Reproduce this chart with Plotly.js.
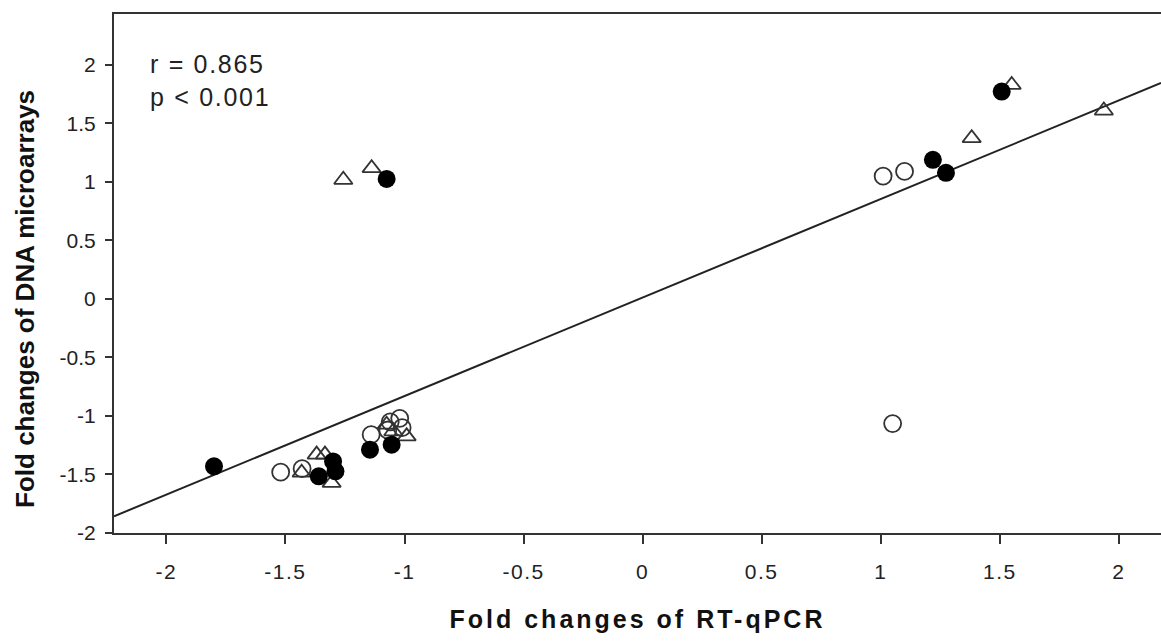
<!DOCTYPE html>
<html>
<head>
<meta charset="utf-8">
<script src="https://cdn.plot.ly/plotly-3.0.1.min.js"></script>
<style>
html,body{margin:0;padding:0;background:#fff;}
#chart{width:1161px;height:641px;}
#chart g.xtick text{letter-spacing:1.5px;}
#chart text.xtitle{letter-spacing:3px;}
#chart g.annotation[data-index="0"] text{letter-spacing:1.7px;}
</style>
</head>
<body>
<div id="chart"></div>
<script>
// Open circles
const openX = [-1.52, -1.43, -1.14, -1.06, -1.02, -1.01, -1.07, 1.01, 1.10, 1.05];
const openY = [-1.48, -1.45, -1.16, -1.05, -1.02, -1.10, -1.12, 1.05, 1.09, -1.065];
// Filled circles
const filledX = [-1.80, -1.36, -1.30, -1.29, -1.145, -1.054, -1.075, 1.219, 1.274, 1.508];
const filledY = [-1.43, -1.516, -1.388, -1.473, -1.288, -1.245, 1.026, 1.189, 1.078, 1.772];
// Open triangles
const triX = [-1.257, -1.138, 1.55, 1.382, 1.937, -1.432, -1.369, -1.334, -1.306, -1.075, -1.047, -0.991];
const triY = [1.018, 1.118, 1.829, 1.374, 1.61, -1.484, -1.33, -1.33, -1.572, -1.074, -1.131, -1.174];
// Regression line parameters
const lineSlope = 0.842;
const lineIntercept = 0.012;
const xRange = [-2.22, 2.177];
const yRange = [-2, 2.435];
const xTicks = [-2, -1.5, -1, -0.5, 0, 0.5, 1, 1.5, 2];
const yTicks = [-2, -1.5, -1, -0.5, 0, 0.5, 1, 1.5, 2];
const statsText = ["r = 0.865", "p < 0.001"];
const xTitle = "Fold changes of RT-qPCR";
const yTitle = "Fold changes of DNA microarrays";

const lineX = xRange.slice();
const lineY = lineX.map(v => lineSlope * v + lineIntercept);

const traces = [
  {x: lineX, y: lineY, mode: 'lines', line: {color: '#222', width: 2}, hoverinfo: 'skip'},
  {x: openX, y: openY, mode: 'markers', marker: {symbol: 'circle-open', size: 17, color: '#333', line: {width: 1.8, color: '#333'}}},
  {x: triX, y: triY, mode: 'markers', marker: {symbol: 'triangle-up-open', size: 16, color: '#333', line: {width: 1.8, color: '#333'}}},
  {x: filledX, y: filledY, mode: 'markers', marker: {symbol: 'circle', size: 18, color: '#000', line: {width: 0}}}
];

const fontFam = '"Liberation Sans", Arial, sans-serif';
const layout = {
  width: 1161, height: 641,
  margin: {l: 114, r: 0, t: 14, b: 108},
  showlegend: false,
  paper_bgcolor: '#fff', plot_bgcolor: '#fff',
  font: {family: fontFam, color: '#222', size: 20},
  xaxis: {
    range: xRange, tickvals: xTicks, ticktext: xTicks.map(String),
    showgrid: false, zeroline: false, showline: true, mirror: true,
    linecolor: '#333', linewidth: 2, ticks: 'outside', ticklen: 9, tickwidth: 2, tickcolor: '#333',
    tickfont: {size: 21, family: fontFam, color: '#222'}, ticklabelstandoff: 10,
    title: {text: '<b>' + xTitle + '</b>', font: {size: 25, family: fontFam, color: '#111'}, standoff: 28}
  },
  yaxis: {
    range: yRange, tickvals: yTicks, ticktext: yTicks.map(String),
    showgrid: false, zeroline: false, showline: true, mirror: true,
    linecolor: '#333', linewidth: 2, ticks: 'outside', ticklen: 7, tickwidth: 2, tickcolor: '#333',
    tickfont: {size: 21, family: fontFam, color: '#222'}, ticklabelstandoff: 5
  },
  annotations: [{
    xref: 'paper', yref: 'paper', x: 0.032, y: 0.935, xanchor: 'left', yanchor: 'top',
    text: statsText.join('<br>'), showarrow: false, align: 'left',
    font: {size: 25, family: fontFam, color: '#222'}
  }, {
    xref: 'paper', yref: 'y', x: -0.085, y: 0, xanchor: 'center', yanchor: 'middle',
    text: '<b>' + yTitle + '</b>', textangle: -90, showarrow: false,
    font: {size: 26, family: fontFam, color: '#111'}
  }]
};

Plotly.newPlot('chart', traces, layout, {displayModeBar: false, staticPlot: true});
</script>
</body>
</html>
